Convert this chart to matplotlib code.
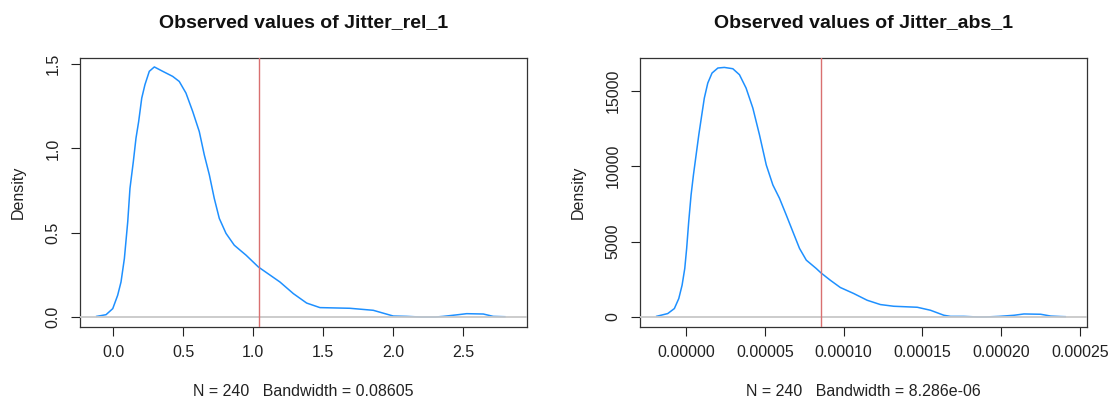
import matplotlib
matplotlib.use("Agg")
import matplotlib.pyplot as plt

plt.rcParams['font.family'] = ['Liberation Sans', 'DejaVu Sans']

# density curve of Jitter_rel_1
rel_x = [-0.119, -0.052, -0.004, 0.031, 0.055, 0.079, 0.103, 0.119, 0.143, 0.162,
         0.181, 0.203, 0.226, 0.257, 0.293, 0.353, 0.424, 0.471, 0.519, 0.567,
         0.614, 0.65, 0.686, 0.721, 0.757, 0.805, 0.864, 0.905, 0.948, 1.036,
         1.19, 1.286, 1.381, 1.476, 1.69, 1.857, 2.0, 2.095, 2.2, 2.3,
         2.357, 2.464, 2.524, 2.643, 2.714, 2.797]
rel_y = [0.004, 0.014, 0.05, 0.129, 0.208, 0.347, 0.565, 0.763, 0.922, 1.061,
         1.159, 1.298, 1.378, 1.457, 1.483, 1.457, 1.427, 1.397, 1.328, 1.219,
         1.1, 0.961, 0.843, 0.704, 0.585, 0.496, 0.426, 0.397, 0.367, 0.297,
         0.208, 0.139, 0.083, 0.056, 0.052, 0.04, 0.006, 0.004, 0.0, 0.0,
         0.004, 0.014, 0.02, 0.018, 0.004, 0.002]
rel_mark = 1.041
rel_xticks = [0.0, 0.5, 1.0, 1.5, 2.0, 2.5]
rel_xlabels = ['0.0', '0.5', '1.0', '1.5', '2.0', '2.5']
rel_yticks = [0.0, 0.5, 1.0, 1.5]
rel_ylabels = ['0.0', '0.5', '1.0', '1.5']

# density curve of Jitter_abs_1
abs_x = [-1.86e-05, -1.16e-05, -0.74e-05, -0.46e-05, -0.25e-05, -0.08e-05, 0.04e-05,
         0.17e-05, 0.32e-05, 0.47e-05, 0.64e-05, 0.81e-05, 1.0e-05, 1.16e-05,
         1.38e-05, 1.65e-05, 2.02e-05, 2.43e-05, 2.97e-05, 3.39e-05, 3.81e-05,
         4.24e-05, 4.66e-05, 5.09e-05, 5.51e-05, 5.93e-05, 6.36e-05, 6.78e-05,
         7.2e-05, 7.63e-05, 8.26e-05, 8.56e-05, 9.15e-05, 9.79e-05, 10.64e-05,
         11.49e-05, 12.33e-05, 13.18e-05, 14.67e-05, 15.51e-05, 16.36e-05,
         16.78e-05, 17.63e-05, 18.5e-05, 19.0e-05, 19.86e-05, 20.81e-05,
         21.44e-05, 22.5e-05, 23.14e-05, 23.77e-05, 24.06e-05]
abs_y = [46, 226, 558, 1220, 2105, 3213, 4542,
         6308, 8081, 9409, 10737, 12065, 13393, 14500,
         15497, 16162, 16494, 16534, 16447, 16050, 15166,
         13838, 12065, 10073, 8745, 7862, 6753, 5644,
         4542, 3765, 3213, 2922, 2437, 1952, 1554,
         1109, 823, 710, 644, 445, 113,
         40, 40, 0, 0, 40, 113,
         200, 180, 60, 30, 20]
abs_mark = 8.56e-05
abs_xticks = [0.0, 0.00005, 0.0001, 0.00015, 0.0002, 0.00025]
abs_xlabels = ['0.00000', '0.00005', '0.00010', '0.00015', '0.00020', '0.00025']
abs_yticks = [0, 5000, 10000, 15000]
abs_ylabels = ['0', '5000', '10000', '15000']

W, H = 1110, 398
fig = plt.figure(figsize=(W / 100, H / 100), dpi=100)
fig.patch.set_facecolor('white')

panels = [
    dict(left=80, right=526.7, x=rel_x, y=rel_y, mark=rel_mark,
         xlim=(-0.238, 2.953), ylim=(-0.059, 1.536),
         xt=rel_xticks, xl=rel_xlabels, yt=rel_yticks, yl=rel_ylabels,
         title='Observed values of Jitter_rel_1',
         sub='N = 240   Bandwidth = 0.08605'),
    dict(left=640, right=1086.7, x=abs_x, y=abs_y, mark=abs_mark,
         xlim=(-2.92e-05, 25.42e-05), ylim=(-664, 17158),
         xt=abs_xticks, xl=abs_xlabels, yt=abs_yticks, yl=abs_ylabels,
         title='Observed values of Jitter_abs_1',
         sub='N = 240   Bandwidth = 8.286e-06'),
]

top, bottom = 58, 327
for p in panels:
    width = p['right'] - p['left']
    ax = fig.add_axes([p['left'] / W, (H - bottom) / H,
                       width / W, (bottom - top) / H])
    ax.plot(p['x'], p['y'], color='#1E90FF', lw=1.1, zorder=2)
    ax.axhline(0, color='#c8c8c8', lw=1.3, zorder=3)
    ax.axvline(p['mark'], color='#d97070', lw=1.0, zorder=4)
    ax.set_xlim(*p['xlim'])
    ax.set_ylim(*p['ylim'])

    ax.set_xticks(p['xt'])
    ax.set_xticklabels(p['xl'])
    ax.set_yticks(p['yt'])
    ax.set_yticklabels(p['yl'], rotation=90, va='center')
    ax.tick_params(direction='out', length=6.5, width=0.8, colors='#222222',
                   labelsize=11.5, pad=6.5)
    ax.tick_params(axis='y', pad=7.5)
    for s in ax.spines.values():
        s.set_color('#333333')
        s.set_linewidth(0.9)

    ax.set_ylabel('Density', fontsize=11.5, color='#222222')
    ax.yaxis.set_label_coords(-54 / width, 0.5)

    cx = (p['left'] + p['right']) / 2 / W
    fig.text(cx, 1 - 23 / H, p['title'], ha='center', va='center',
             fontsize=14, fontweight='bold', color='#111111')
    fig.text(cx, 1 - 396 / H, p['sub'], ha='center', va='baseline',
             fontsize=11.5, color='#222222')

fig.savefig('out.png', dpi=100, facecolor='white')
